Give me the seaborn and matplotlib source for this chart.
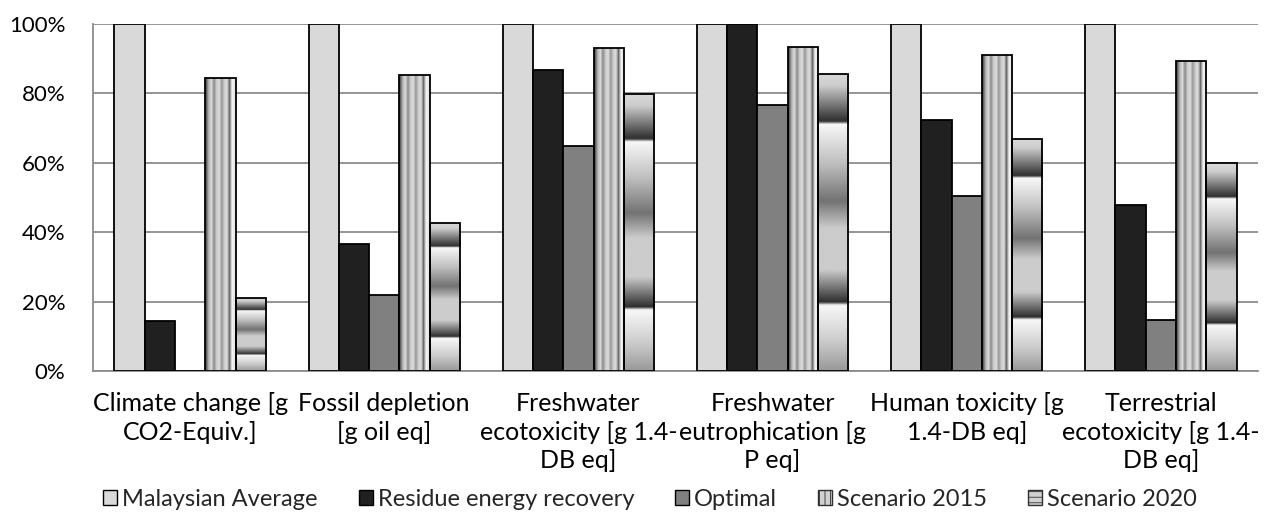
import numpy as np
import pandas as pd
import matplotlib
matplotlib.use("Agg")
import matplotlib.pyplot as plt
import seaborn as sns
from matplotlib.patches import Patch
from matplotlib.ticker import FixedLocator, PercentFormatter

categories = [
    "Climate change [g\nCO2-Equiv.]",
    "Fossil depletion\n[g oil eq]",
    "Freshwater\necotoxicity [g 1.4-\nDB eq]",
    "Freshwater\neutrophication [g\nP eq]",
    "Human toxicity [g\n1.4-DB eq]",
    "Terrestrial\necotoxicity [g 1.4-\nDB eq]",
]
series = ["Malaysian Average", "Residue energy recovery", "Optimal",
          "Scenario 2015", "Scenario 2020"]

malaysian_average = [100, 100, 100, 100, 100, 100]
residue_energy_recovery = [14.5, 36.5, 86.7, 100, 72.3, 47.8]
optimal = [-0.3, 22.0, 64.7, 76.7, 50.5, 14.8]
scenario_2015 = [84.5, 85.3, 93.2, 93.3, 91.1, 89.2]
scenario_2020 = [21.0, 42.7, 79.8, 85.7, 67.0, 59.8]

values = [malaysian_average, residue_energy_recovery, optimal,
          scenario_2015, scenario_2020]

rows = []
for s, vals in zip(series, values):
    for c, v in zip(categories, vals):
        rows.append({"category": c, "series": s, "value": v})
df = pd.DataFrame(rows)

sns.set_theme(style="white")
plt.rcParams["font.family"] = ["Lato", "DejaVu Sans"]
plt.rcParams["hatch.linewidth"] = 0.6

palette = {
    "Malaysian Average": "#d9d9d9",
    "Residue energy recovery": "#202020",
    "Optimal": "#808080",
    "Scenario 2015": "#c8c8c8",
    "Scenario 2020": "#c8c8c8",
}

fig = plt.figure(figsize=(12.66, 5.12), dpi=100)
ax = fig.add_axes([93 / 1266, 1 - 371 / 512, (1258 - 93) / 1266, (371 - 24) / 512])

sns.barplot(data=df, x="category", y="value", hue="series", order=categories,
            hue_order=series, palette=palette, width=0.78, dodge=True,
            edgecolor="black", linewidth=1.3, saturation=1, legend=False,
            errorbar=None, ax=ax, zorder=3)

# shaded fills for the two scenario series
stripe_profile = np.array([0.35, 0.72, 0.85, 0.55, 0.8, 0.86, 0.6, 0.8, 0.86,
                           0.42, 0.95, 0.9])
band_t = np.array([0.0, 0.04, 0.16, 0.17, 0.30, 0.43, 0.52, 0.66, 0.77, 0.78,
                   0.90, 1.0])
band_v = np.array([0.85, 0.80, 0.18, 0.97, 0.75, 0.45, 0.80, 0.80, 0.18, 0.97,
                   0.80, 0.60])
tt = np.linspace(0, 1, 200)
band_profile = np.interp(tt, band_t, band_v)

for idx, kind in ((3, "stripes"), (4, "bands")):
    for bar in ax.containers[idx]:
        x0, w = bar.get_x(), bar.get_width()
        y0, h = bar.get_y(), bar.get_height()
        if kind == "stripes":
            img = stripe_profile[np.newaxis, :]
        else:
            img = band_profile[:, np.newaxis]
        # first image row sits at the top of the bar
        im = ax.imshow(img, cmap="gray", vmin=0, vmax=1, aspect="auto",
                       interpolation="bilinear", origin="upper",
                       extent=(x0, x0 + w, y0, y0 + h), zorder=3.5)
        im.set_clip_path(bar)
        bar.set_facecolor("none")
        bar.set_zorder(4)

ax.set_xlim(-0.5, len(categories) - 0.5)
ax.set_ylim(0, 100)
ax.set_xlabel("")
ax.set_ylabel("")

grid_color = "#8c8c8c"
ax.yaxis.set_major_locator(FixedLocator([0, 20, 40, 60, 80, 100]))
ax.yaxis.set_major_formatter(PercentFormatter(100, decimals=0))
ax.grid(axis="y", color=grid_color, linewidth=1.3, zorder=0)
ax.set_axisbelow(True)

for side in ("top", "right"):
    ax.spines[side].set_visible(False)
for side in ("left", "bottom"):
    ax.spines[side].set_color(grid_color)
    ax.spines[side].set_linewidth(1.3)

ax.tick_params(axis="y", which="major", length=7, width=1.3, color=grid_color,
               direction="out", labelsize=16, pad=13, labelcolor="black")
ax.set_xticks(range(len(categories)))
ax.set_xticklabels(categories, fontsize=18, linespacing=1.3, va="top")
ax.tick_params(axis="x", which="major", length=0, pad=15, labelcolor="black")
ax.xaxis.set_minor_locator(FixedLocator(np.arange(-0.5, len(categories), 1.0)))
ax.tick_params(axis="x", which="minor", length=7, width=1.3, color=grid_color,
               direction="out")

handles = [
    Patch(facecolor="#d9d9d9", edgecolor="black", linewidth=1.0),
    Patch(facecolor="#202020", edgecolor="black", linewidth=1.0),
    Patch(facecolor="#808080", edgecolor="black", linewidth=1.0),
    Patch(facecolor="#d0d0d0", edgecolor="#303030", linewidth=1.0, hatch="|||"),
    Patch(facecolor="#d0d0d0", edgecolor="#303030", linewidth=1.0, hatch="---"),
]
fig.legend(handles, series, loc="center", bbox_to_anchor=(650 / 1266, 1 - 499 / 512),
           ncol=5, frameon=False, fontsize=17, handlelength=0.6, handleheight=0.6,
           handletextpad=0.2, columnspacing=1.74, borderaxespad=0, borderpad=0)

fig.savefig("out.png", dpi=100)
